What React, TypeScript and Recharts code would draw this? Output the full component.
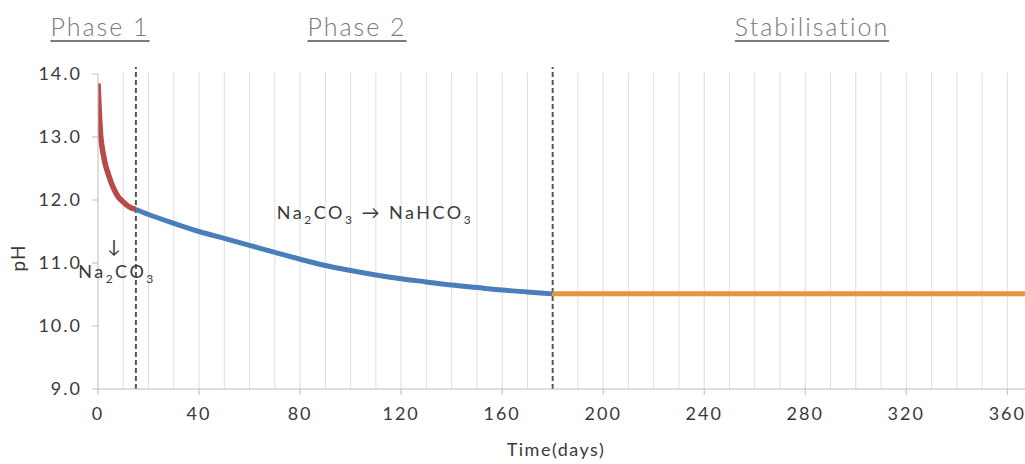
import React from 'react'
import { LineChart, Line, XAxis, YAxis, ReferenceLine } from 'recharts'

// Phase 1: rapid drop after contact
const phase1Days = [0, 0.5, 1, 2, 3, 4, 5, 6, 8, 10, 12, 15]
const phase1pH = [13.85, 13.4, 13.05, 12.75, 12.55, 12.42, 12.3, 12.2, 12.05, 11.97, 11.9, 11.85]

// Phase 2: Na2CO3 -> NaHCO3
const phase2Days = [15, 20, 30, 40, 50, 60, 70, 80, 90, 100, 110, 120, 130, 140, 150, 160, 170, 180]
const phase2pH = [11.85, 11.77, 11.63, 11.5, 11.39, 11.28, 11.17, 11.06, 10.96, 10.88, 10.81, 10.75, 10.7, 10.65, 10.61, 10.57, 10.54, 10.51]

// Stabilisation
const stabDays = [180, 240, 300, 367]
const stabpH = [10.51, 10.51, 10.51, 10.51]

const xTicks = [0, 40, 80, 120, 160, 200, 240, 280, 320, 360]
const yTicks = [9, 10, 11, 12, 13, 14]
const gridDays = [10, 20, 30, 40, 50, 60, 70, 80, 90, 100, 110, 120, 130, 140, 150, 160, 170, 190, 200, 210, 220, 230, 240, 250, 260, 270, 280, 290, 300, 310, 320, 330, 340, 350, 360]
const phaseBounds = [15, 180]

const toRows = (days: number[], vals: number[]) => days.map((d, i) => ({ day: d, pH: vals[i] }))

const font = 'Lato, "Noto Sans", sans-serif'
const textGray = '#3a3a3a'

const abs = (x: number, y: number, extra: React.CSSProperties = {}): React.CSSProperties => ({
  position: 'absolute',
  left: x,
  top: y,
  transform: 'translate(-50%, -50%)',
  whiteSpace: 'nowrap',
  fontFamily: font,
  color: textGray,
  ...extra,
})

const phaseStyle: React.CSSProperties = {
  fontSize: 25,
  fontWeight: 300,
  color: '#7a7a7a',
  textDecoration: 'underline',
  textUnderlineOffset: 4,
  letterSpacing: 2,
}

const noteStyle: React.CSSProperties = { fontSize: 18, letterSpacing: 2.5 }
const subStyle: React.CSSProperties = { fontSize: 12 }

const tickStyle = { fill: textGray, fontSize: 18, fontFamily: font, letterSpacing: 2 }

export default function App() {
  return (
    <div style={{ position: 'absolute', left: 0, top: 0, width: 1025, height: 464, overflow: 'hidden', background: '#fff' }}>
      <LineChart width={1025} height={464} margin={{ top: 74, right: 0, bottom: 0, left: 0 }}>
        <XAxis
          type="number"
          dataKey="day"
          domain={[0, 367]}
          ticks={xTicks}
          allowDataOverflow
          height={75}
          tickSize={6}
          tickMargin={12}
          stroke="#bdbdbd"
          tick={tickStyle}
        />
        <YAxis
          type="number"
          domain={[9, 14]}
          ticks={yTicks}
          width={98}
          tickSize={6}
          tickMargin={10}
          stroke="#bdbdbd"
          tickFormatter={(v: number) => v.toFixed(1)}
          tick={tickStyle}
        />
        {gridDays.map((d) => (
          <ReferenceLine
            key={d}
            ifOverflow="visible"
            segment={[{ x: d, y: 9 }, { x: d, y: 14.03 }]}
            stroke="#dedede"
            strokeWidth={1}
          />
        ))}
        {phaseBounds.map((d) => (
          <ReferenceLine
            key={'b' + d}
            ifOverflow="visible"
            segment={[{ x: d, y: 9 }, { x: d, y: 14.11 }]}
            stroke="#555"
            strokeWidth={2}
            strokeDasharray="5 3"
          />
        ))}
        <Line data={toRows(phase2Days, phase2pH)} dataKey="pH" type="monotone" stroke="#4a7ebb" strokeWidth={5} dot={false} isAnimationActive={false} />
        <Line data={toRows(stabDays, stabpH)} dataKey="pH" type="monotone" stroke="#e8953c" strokeWidth={5} dot={false} isAnimationActive={false} />
        <Line data={toRows(phase1Days, phase1pH)} dataKey="pH" type="monotone" stroke="#b94a4c" strokeWidth={5.5} dot={false} isAnimationActive={false} />
      </LineChart>

      <div style={abs(100, 26, phaseStyle)}>Phase 1</div>
      <div style={abs(357, 26, phaseStyle)}>Phase 2</div>
      <div style={abs(812, 26, phaseStyle)}>Stabilisation</div>

      <div style={abs(17, 258, { fontSize: 19, letterSpacing: 1, transform: 'translate(-50%, -50%) rotate(-90deg)' })}>pH</div>
      <div style={abs(556, 449, { fontSize: 18, letterSpacing: 1.5 })}>Time(days)</div>

      <div style={abs(114, 246, { fontSize: 18 })}>↓</div>
      <div style={abs(117, 273, noteStyle)}>
        Na<sub style={subStyle}>2</sub>CO<sub style={subStyle}>3</sub>
      </div>
      <div style={abs(375, 214, noteStyle)}>
        Na<sub style={subStyle}>2</sub>CO<sub style={subStyle}>3</sub> → NaHCO<sub style={subStyle}>3</sub>
      </div>
    </div>
  )
}
